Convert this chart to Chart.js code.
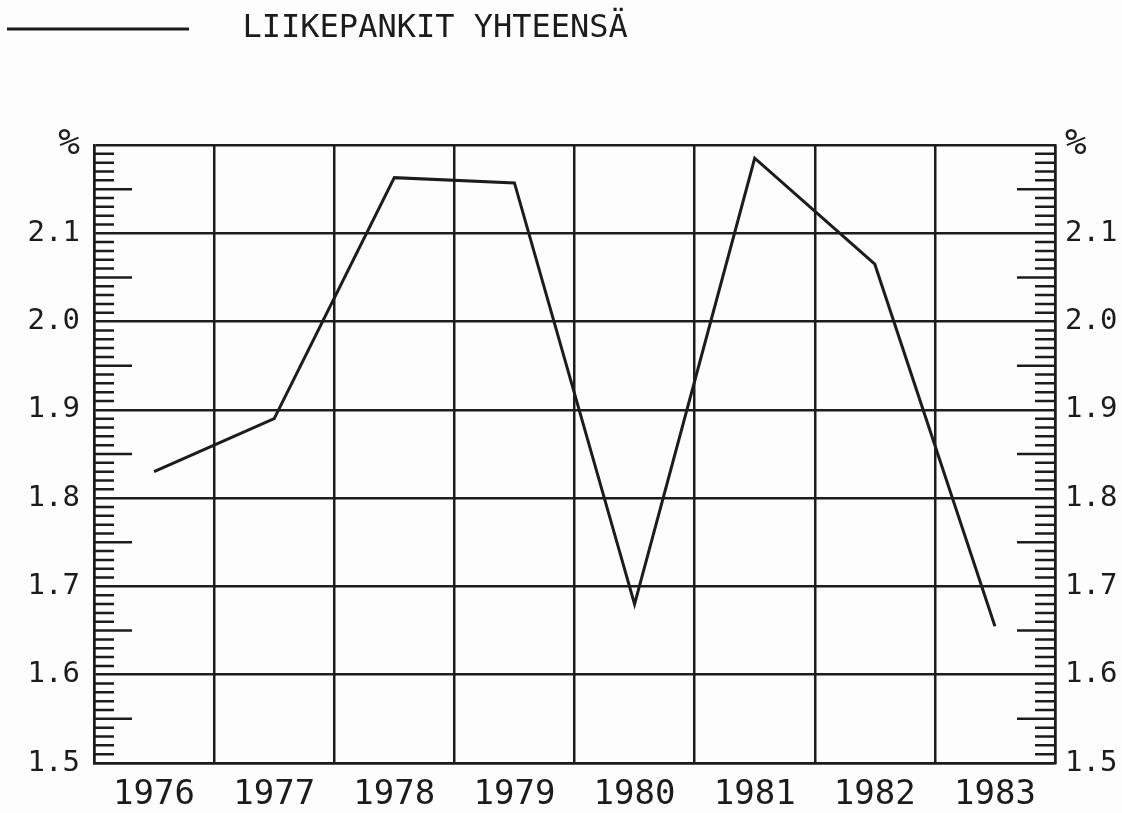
<!DOCTYPE html>
<html>
<head>
<meta charset="utf-8">
<title>Liikepankit yhteensä</title>
<script src="https://cdn.jsdelivr.net/npm/chart.js@4.4.1/dist/chart.umd.min.js"></script>
<style>
  html, body { margin: 0; padding: 0; background: #fdfdfd; }
  #wrap { width: 1122px; height: 813px; }
</style>
</head>
<body>
<div id="wrap"><canvas id="chart" width="1122" height="813"></canvas></div>
<script>
// values (percent)
const years = ['1976', '1977', '1978', '1979', '1980', '1981', '1982', '1983']
const totalBanks = [1.83, 1.89, 2.163, 2.157, 1.68, 2.185, 2.065, 1.655]
const seriesLabel = 'LIIKEPANKIT YHTEENSÄ'
const yMin = 1.5
const yMax = 2.2

const ink = '#1c1c1c'
const mono = "'DejaVu Sans Mono', 'Liberation Mono', monospace"

// small ruler ticks every 0.01 on both y axes, longer at the half steps
const rulerTicks = {
    id: 'rulerTicks',
    afterDraw: function (chart) {
        const ctx = chart.ctx
        const area = chart.chartArea
        const y = chart.scales.y
        ctx.save()
        ctx.strokeStyle = ink
        ctx.lineWidth = 2.5
        for (let i = 1; i < 70; i++) {
            if (i % 10 === 0) continue
            const py = y.getPixelForValue(yMin + i * 0.01)
            const len = i % 5 === 0 ? 38 : 20
            ctx.beginPath()
            ctx.moveTo(area.left, py)
            ctx.lineTo(area.left + len, py)
            ctx.moveTo(area.right, py)
            ctx.lineTo(area.right - len, py)
            ctx.stroke()
        }
        ctx.restore()
    }
}

// leave room between the legend line and the plot
const legendSpacer = {
    id: 'legendSpacer',
    beforeInit: function (chart) {
        const fit = chart.legend.fit
        chart.legend.fit = function () {
            fit.bind(chart.legend)()
            this.height += 90
        }
    }
}

function isTop(value) {
    return Math.abs(value - yMax) < 0.001
}

function yLabel(value) {
    if (isTop(value)) return '%'
    return value.toFixed(1)
}

function yFont(c) {
    const top = c.tick && isTop(c.tick.value)
    return { family: mono, size: top ? 36 : 29 }
}

const ctx = document.getElementById('chart')
new Chart(ctx, {
    type: 'line',
    data: {
        labels: years,
        datasets: [
            {
                label: seriesLabel,
                data: totalBanks,
                borderColor: ink,
                backgroundColor: ink,
                borderWidth: 3,
                pointRadius: 0,
                tension: 0
            }
        ]
    },
    options: {
        responsive: false,
        animation: false,
        layout: {
            padding: { left: 0, right: 0, top: 5, bottom: 0 }
        },
        plugins: {
            tooltip: { enabled: false },
            legend: {
                position: 'top',
                align: 'start',
                labels: {
                    boxWidth: 180,
                    boxHeight: 1,
                    padding: 8,
                    color: ink,
                    font: { family: mono, size: 32 },
                    generateLabels: function (chart) {
                        const ds = chart.data.datasets[0]
                        return [{
                            text: '  ' + ds.label,
                            fillStyle: ink,
                            strokeStyle: ink,
                            lineWidth: 2,
                            fontColor: ink,
                            datasetIndex: 0
                        }]
                    }
                }
            }
        },
        scales: {
            x: {
                offset: true,
                grid: {
                    offset: true,
                    color: ink,
                    lineWidth: 2.5,
                    drawTicks: false
                },
                border: { color: ink, width: 2.5 },
                ticks: {
                    color: ink,
                    padding: 12,
                    font: { family: mono, size: 34 }
                },
                afterFit: function (scale) { scale.height = 50 }
            },
            y: {
                position: 'left',
                min: yMin,
                max: yMax,
                grid: {
                    color: ink,
                    lineWidth: 2.5,
                    drawTicks: false
                },
                border: { color: ink, width: 2.5 },
                ticks: {
                    stepSize: 0.1,
                    color: ink,
                    padding: 14,
                    font: yFont,
                    callback: yLabel
                },
                afterFit: function (scale) { scale.width = 94 }
            },
            y2: {
                position: 'right',
                min: yMin,
                max: yMax,
                grid: { drawOnChartArea: false, drawTicks: false },
                border: { color: ink, width: 2.5 },
                ticks: {
                    stepSize: 0.1,
                    color: ink,
                    padding: 10,
                    font: yFont,
                    callback: yLabel
                },
                afterFit: function (scale) { scale.width = 67 }
            }
        }
    },
    plugins: [rulerTicks, legendSpacer]
})
</script>
</body>
</html>
